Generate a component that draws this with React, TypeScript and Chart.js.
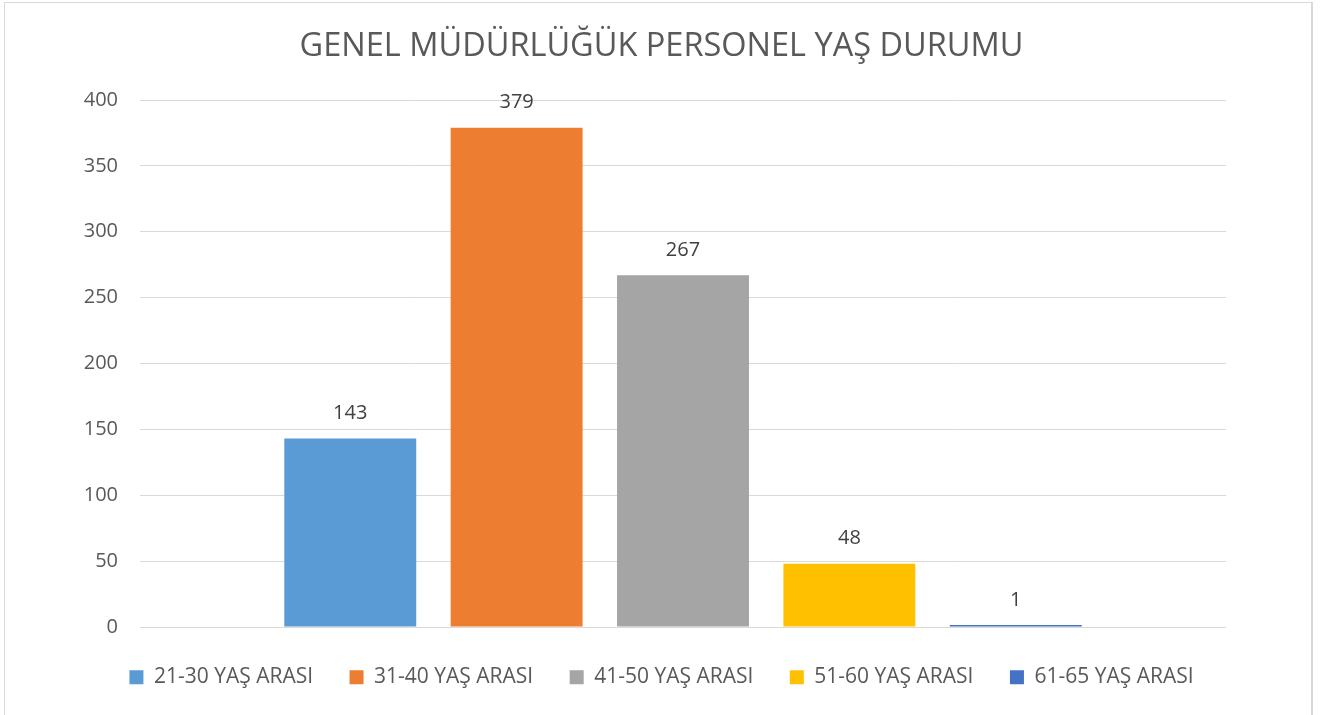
import React, { useEffect, useRef } from "react";
import { Chart, registerables } from "chart.js";

Chart.register(...registerables);

const TITLE = "GENEL MÜDÜRLÜĞÜK PERSONEL YAŞ DURUMU";
const CATEGORIES = [""];
const SERIES_NAMES = ["21-30 YAŞ ARASI", "31-40 YAŞ ARASI", "41-50 YAŞ ARASI", "51-60 YAŞ ARASI", "61-65 YAŞ ARASI"];
const SERIES_VALUES = [143, 379, 267, 48, 1];
const SERIES_COLORS = ["#5B9BD5", "#ED7D31", "#A5A5A5", "#FFC000", "#4472C4"];
const Y_MIN = 0;
const Y_MAX = 400;
const Y_STEP = 50;

const FONT = "'Open Sans', 'Liberation Sans', sans-serif";

const valueLabels = {
  id: "valueLabels",
  afterDatasetsDraw(chart: any) {
    const ctx = chart.ctx;
    ctx.save();
    ctx.font = `20px ${FONT}`;
    ctx.fillStyle = "#404040";
    ctx.textAlign = "center";
    ctx.textBaseline = "middle";
    chart.data.datasets.forEach((ds: any, i: number) => {
      const meta = chart.getDatasetMeta(i);
      meta.data.forEach((bar: any, j: number) => {
        ctx.fillText(String(ds.data[j]), bar.x, bar.y - 25);
      });
    });
    ctx.restore();
  },
};

export default function App() {
  const ref = useRef<HTMLCanvasElement>(null);
  useEffect(() => {
    if (!ref.current) return;
    const chart = new Chart(ref.current, {
      type: "bar",
      data: {
        labels: CATEGORIES,
        datasets: SERIES_NAMES.map((name, i) => ({
          label: name,
          data: [SERIES_VALUES[i]],
          backgroundColor: SERIES_COLORS[i],
          borderWidth: 0,
          minBarLength: 2,
          categoryPercentage: 0.766,
          barPercentage: 0.793,
        })),
      },
      options: {
        animation: false,
        responsive: true,
        maintainAspectRatio: false,
        layout: { padding: { left: 0, right: 0, top: 0, bottom: 17.3 } },
        plugins: {
          tooltip: { enabled: false },
          title: {
            display: true,
            text: TITLE,
            color: "#595959",
            font: { family: FONT, size: 32.5, weight: "normal" },
            padding: { top: 27.5, bottom: 33.5 },
          },
          legend: {
            position: "bottom",
            title: { display: true, text: "", font: { size: 1 }, padding: { top: 2, bottom: 0 } },
            labels: {
              color: "#595959",
              font: { family: FONT, size: 21 },
              boxWidth: 14,
              boxHeight: 14,
              padding: 36.5,
            },
          },
        },
        scales: {
          x: { display: false },
          y: {
            min: Y_MIN,
            max: Y_MAX,
            ticks: { stepSize: Y_STEP, color: "#595959", font: { family: FONT, size: 20 }, padding: 22 },
            grid: { color: "#D9D9D9", lineWidth: 1, drawTicks: false },
            border: { display: false },
            afterFit: (s: any) => { s.width = 140; },
          },
          yRight: {
            position: "right",
            display: true,
            ticks: { display: false },
            grid: { display: false, drawTicks: false },
            border: { display: false },
            afterFit: (s: any) => { s.width = 97; },
          },
        },
      },
      plugins: [valueLabels],
    });
    return () => chart.destroy();
  }, []);
  return (
    <div style={{ position: "fixed", left: 0, top: 0, width: 1323, height: 715, background: "#fff" }}>
      <div style={{ position: "absolute", left: 4, top: 2, width: 1306, height: 730, border: "1px solid #D9D9D9", borderRightWidth: 2 }} />
      <canvas ref={ref} style={{ position: "absolute", left: 0, top: 0 }} />
    </div>
  );
}
